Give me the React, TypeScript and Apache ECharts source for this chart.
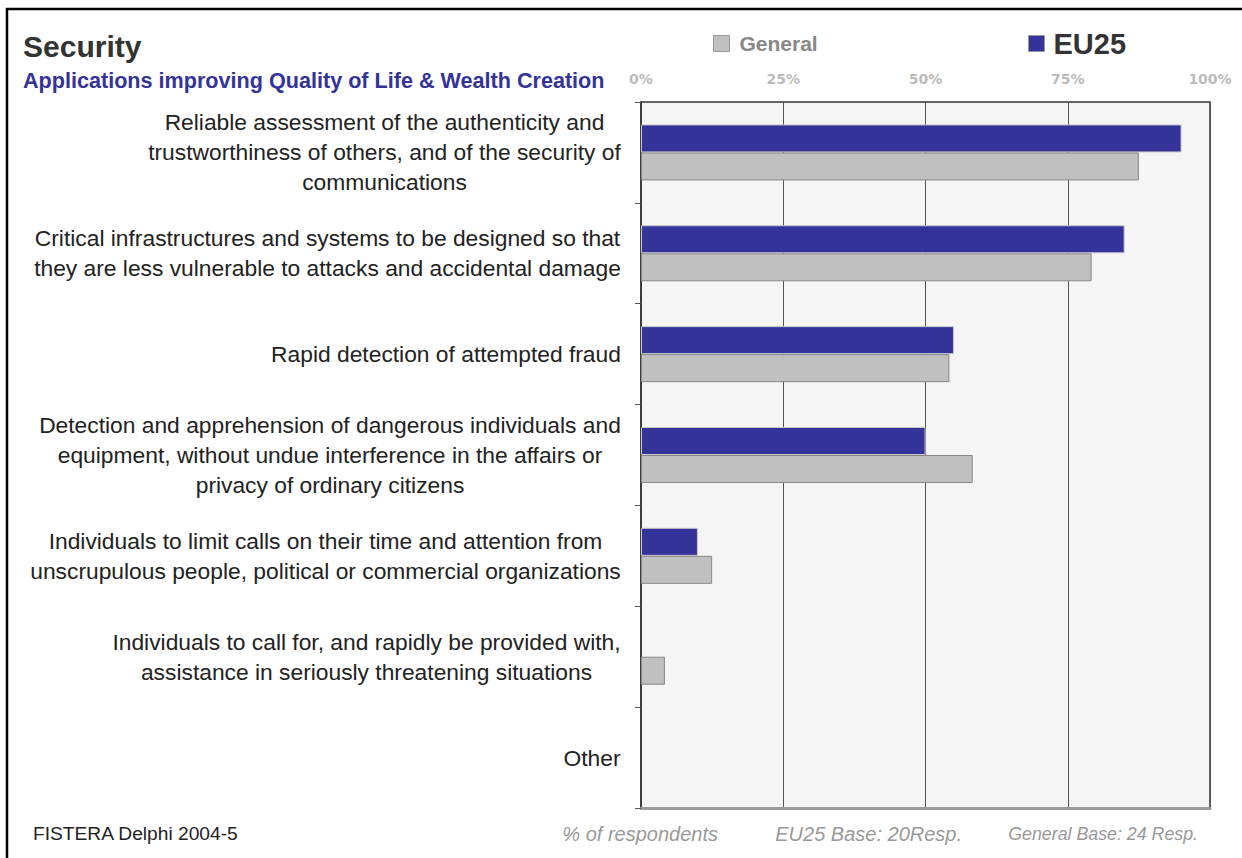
import React, { useEffect, useRef } from "react";
import * as echarts from "echarts";

const categories: string[] = [
  "Reliable assessment of the authenticity and\ntrustworthiness of others, and of the security of\ncommunications",
  "Critical infrastructures and systems to be designed so that\nthey are less vulnerable to attacks and accidental damage",
  "Rapid detection of attempted fraud",
  "Detection and apprehension of dangerous individuals and\nequipment, without undue interference in the affairs or\nprivacy of ordinary citizens",
  "Individuals to limit calls on their time and attention from\nunscrupulous people, political or commercial organizations",
  "Individuals to call for, and rapidly be provided with,\nassistance in seriously threatening situations",
  "Other",
];

const eu25Values: number[] = [95, 85, 55, 50, 10, 0, 0];
const generalValues: number[] = [87.5, 79.2, 54.2, 58.3, 12.5, 4.2, 0];
const xTickValues: number[] = [0, 25, 50, 75, 100];

const LABEL_FONT_SIZE = 22.8;
const LABEL_FONT = "Liberation Sans";

function measure(text: string): number {
  const c = document.createElement("canvas");
  const ctx = c.getContext("2d");
  if (!ctx) return text.length * 10;
  ctx.font = `${LABEL_FONT_SIZE}px "${LABEL_FONT}"`;
  return ctx.measureText(text).width;
}

export default function App() {
  const ref = useRef<HTMLDivElement>(null);

  useEffect(() => {
    if (!ref.current) return;
    document.body.style.margin = "0";
    const chart = echarts.init(ref.current, null, { renderer: "svg" });

    const rich: Record<string, any> = {};
    categories.forEach((cat, i) => {
      const w = Math.max(...cat.split("\n").map(measure));
      rich["c" + i] = {
        width: Math.ceil(w) + 2,
        align: "center",
        fontSize: LABEL_FONT_SIZE,
        fontFamily: LABEL_FONT,
        color: "#222",
        lineHeight: 30,
      };
    });

    const toBar = (v: number) => (v === 0 ? "-" : v);

    chart.setOption({
      animation: false,
      backgroundColor: "#ffffff",
      textStyle: { fontFamily: "Liberation Sans" },
      title: [
        {
          text: "Security",
          left: 23,
          top: 31,
          padding: 0,
          textStyle: { fontSize: 30, fontWeight: "bold", color: "#333", fontFamily: "Liberation Sans" },
        },
        {
          text: "Applications improving Quality of Life & Wealth Creation",
          left: 23,
          top: 69,
          padding: 0,
          textStyle: { fontSize: 21.6, fontWeight: "bold", color: "#333399", fontFamily: "Liberation Sans" },
        },
      ],
      legend: [
        {
          data: ["General"],
          left: 713,
          top: 33,
          padding: 0,
          itemWidth: 16,
          itemHeight: 16,
          icon: "rect",
          itemStyle: { color: "#c0c0c0", borderColor: "#999", borderWidth: 1 },
          textStyle: { fontSize: 21, fontWeight: "bold", color: "#888", padding: [0, 0, 0, 5] },
        },
        {
          data: ["EU25"],
          left: 1028,
          top: 29,
          padding: 0,
          itemWidth: 16,
          itemHeight: 16,
          icon: "rect",
          itemStyle: { color: "#333399", borderColor: "#999", borderWidth: 1 },
          textStyle: { fontSize: 29, fontWeight: "bold", color: "#333", padding: [0, 0, 0, 4] },
        },
      ],
      grid: {
        left: 641,
        right: 32,
        top: 102,
        bottom: 50,
        show: true,
        backgroundColor: "#f5f5f5",
        borderColor: "#333",
        borderWidth: 1.5,
      },
      xAxis: [
        {
          type: "value",
          position: "top",
          min: 0,
          max: 100,
          interval: 25,
          axisLine: { show: false },
          axisTick: { show: false },
          splitLine: { show: true, lineStyle: { color: "#555", width: 1 } },
          axisLabel: {
            margin: 16,
            color: "#bbb",
            fontSize: 14,
            fontWeight: "bold",
            fontFamily: "DejaVu Sans",
            customValues: xTickValues,
            formatter: (v: number) => `${v}%`,
          },
        },
        {
          type: "value",
          position: "bottom",
          min: 0,
          max: 100,
          interval: 25,
          axisLine: { show: true, lineStyle: { color: "#999", width: 3 } },
          axisTick: { show: false },
          splitLine: { show: false },
          axisLabel: { show: false },
        },
      ],
      yAxis: {
        type: "category",
        inverse: true,
        data: categories,
        axisLine: { show: true, lineStyle: { color: "#333", width: 1.5 } },
        axisTick: { show: true, length: 6, lineStyle: { color: "#555" } },
        axisLabel: {
          margin: 19,
          align: "right",
          formatter: (value: string, index: number) =>
            value
              .split("\n")
              .map((l) => `{c${index}|${l}}`)
              .join("\n"),
          rich,
        },
      },
      series: [
        {
          name: "EU25",
          type: "bar",
          xAxisIndex: 0,
          data: eu25Values.map(toBar),
          barWidth: 28,
          barGap: "0%",
          itemStyle: { color: "#333399", borderColor: "#c8c8c8", borderWidth: 1 },
        },
        {
          name: "General",
          type: "bar",
          xAxisIndex: 0,
          data: generalValues.map(toBar),
          barWidth: 28,
          barGap: "0%",
          itemStyle: { color: "#c0c0c0", borderColor: "#888", borderWidth: 1 },
        },
      ],
      graphic: [
        { type: "line", shape: { x1: 6, y1: 9, x2: 1242, y2: 9 }, style: { stroke: "#000", lineWidth: 2.5 } },
        { type: "line", shape: { x1: 7, y1: 8, x2: 7, y2: 858 }, style: { stroke: "#000", lineWidth: 2.5 } },
        {
          type: "text",
          x: 33,
          y: 833,
          style: { text: "FISTERA Delphi 2004-5", fontSize: 19.2, fill: "#222", fontFamily: "Liberation Sans", verticalAlign: "middle", align: "left" },
        },
        {
          type: "text",
          x: 718,
          y: 834,
          style: { text: "% of respondents", fontSize: 20, fontStyle: "italic", fill: "#999", fontFamily: "Liberation Sans", verticalAlign: "middle", align: "right" },
        },
        {
          type: "text",
          x: 962,
          y: 834,
          style: { text: "EU25 Base: 20Resp.", fontSize: 20, fontStyle: "italic", fill: "#999", fontFamily: "Liberation Sans", verticalAlign: "middle", align: "right" },
        },
        {
          type: "text",
          x: 1198,
          y: 834,
          style: { text: "General Base: 24 Resp.", fontSize: 17.8, fontStyle: "italic", fill: "#999", fontFamily: "Liberation Sans", verticalAlign: "middle", align: "right" },
        },
      ],
    });

    return () => chart.dispose();
  }, []);

  return (
    <div
      ref={ref}
      style={{ position: "absolute", left: 0, top: 0, width: 1242, height: 858 }}
    />
  );
}
